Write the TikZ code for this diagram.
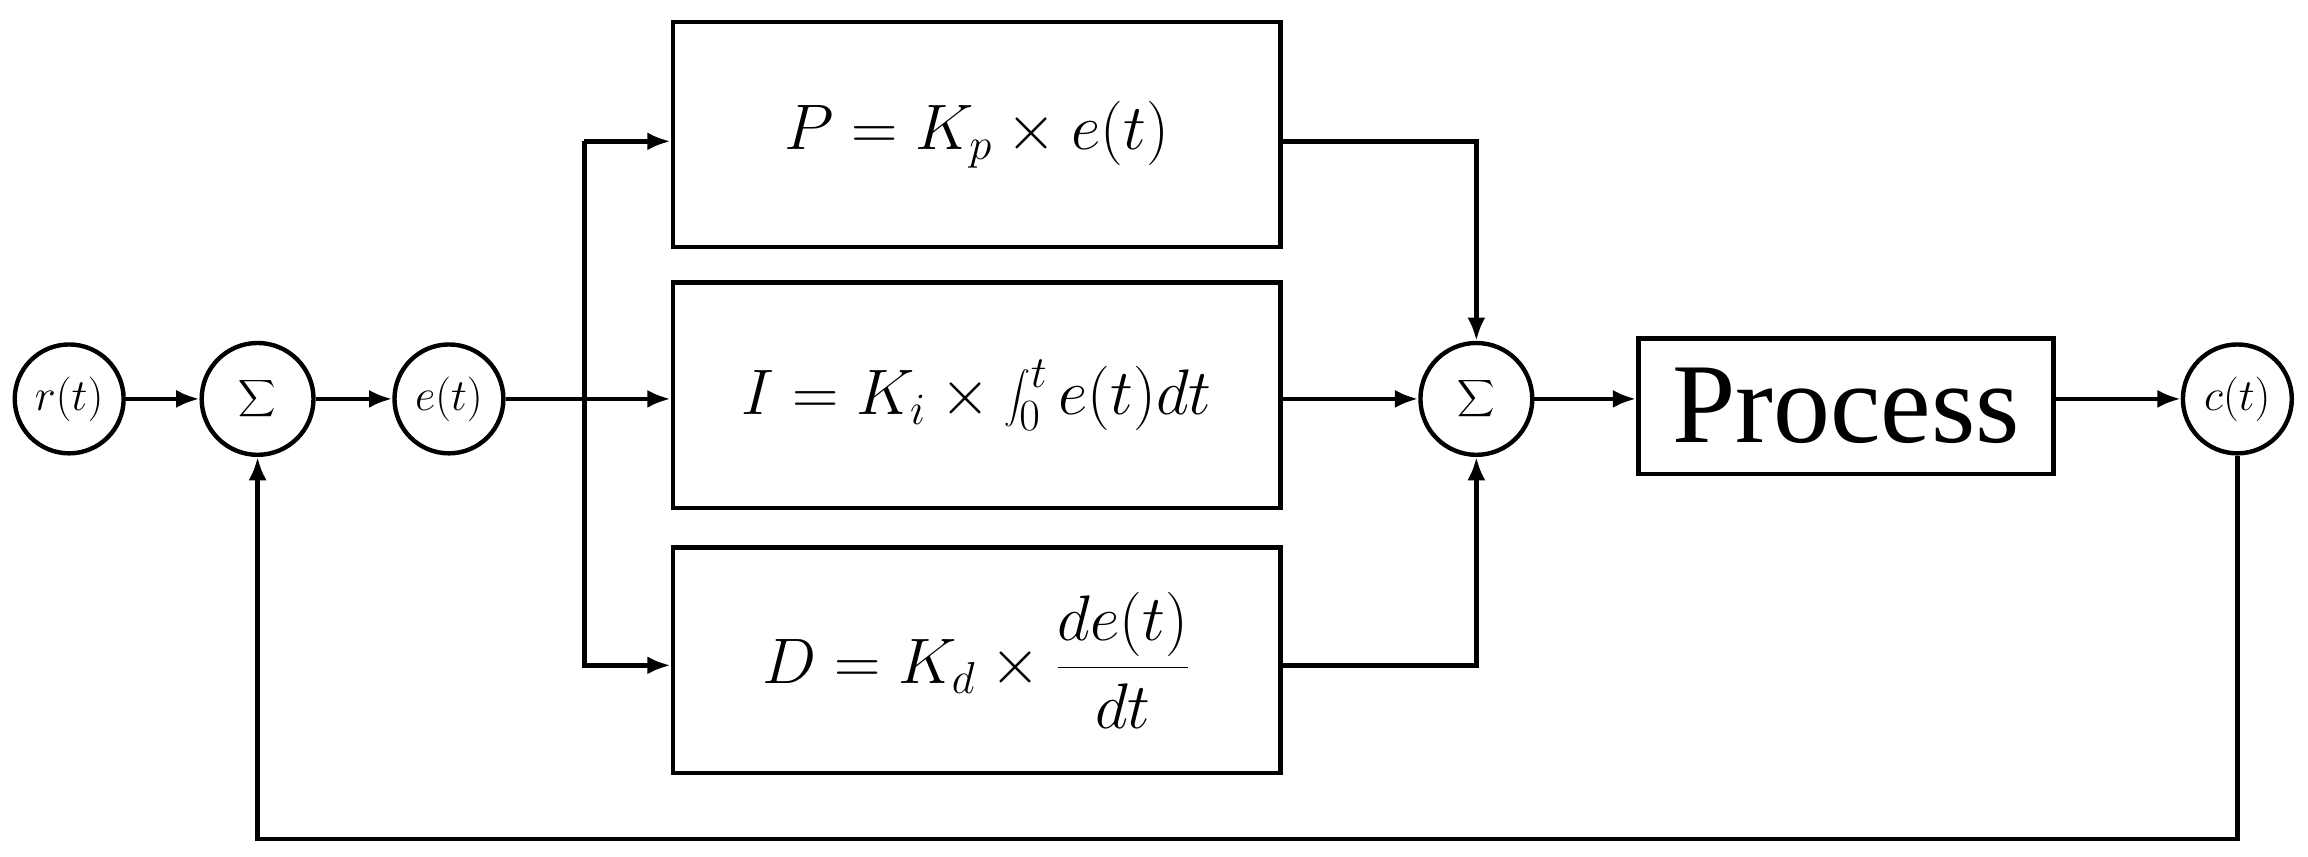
\documentclass[tikz,border=0pt]{standalone}
\usepackage{fontspec}
\newfontfamily\procfont{Liberation Serif}
\usetikzlibrary{arrows.meta}
\begin{document}
\begin{tikzpicture}[x=0.02cm,y=-0.02cm,
  every path/.style={line width=1.7pt},
  arr/.style={-{Latex[length=9pt,width=7pt]}},
  circ/.style={circle,draw,line width=1.7pt,minimum size=2.96cm,inner sep=0pt,font=\fontsize{17}{20}\selectfont},
  scirc/.style={circle,draw,line width=1.7pt,minimum size=2.96cm,inner sep=0pt,font=\fontsize{22}{24}\selectfont},
  blk/.style={draw,line width=1.7pt,minimum width=8.26cm,minimum height=3.06cm,font=\fontsize{24}{28}\selectfont}]
\useasboundingbox (0,0) rectangle (1568,582);
\node[circ,minimum size=1.48cm] (r) at (47,271) {$r(t)$};
\node[scirc,minimum size=1.52cm] (s1) at (175,271) {$\displaystyle\sum$};
\node[circ,minimum size=1.48cm] (e) at (305,271) {$e(t)$};
\node[blk] (P) at (663.5,91.5) {$P=K_p\times e(t)$};
\node[blk] (I) at (663.5,268.5) {$\displaystyle I=K_i\times \int_0^t e(t)dt$};
\node[blk] (D) at (663.5,448.5) {$\displaystyle D=K_d\times \frac{de(t)}{dt}$};
\node[scirc,minimum size=1.52cm] (s2) at (1003,271) {$\displaystyle\sum$};
\node[draw,line width=1.7pt,minimum width=5.64cm,minimum height=1.84cm,font=\procfont\fontsize{44}{48}\selectfont] (pr) at (1254,276) {Process};
\node[circ,minimum size=1.48cm] (c) at (1520,271) {$c(t)$};
\draw[arr] (r) -- (s1);
\draw[arr] (s1) -- (e);
\draw[arr] (e) -- (I.west |- e);
\draw[arr] (397,96) |- (D.west |- 0,452);
\draw[arr] (397,96) -- (P.west |- 0,96);
\draw[arr] (P.east |- 0,96) -| (s2.north);
\draw[arr] (D.east |- 0,452) -| (s2.south);
\draw[arr] (I.east |- s2) -- (s2.west);
\draw[arr] (s2.east) -- (pr.west |- s2);
\draw[arr] (pr.east |- c) -- (c.west);
\draw[arr] (c.south) -- (1520,570) -| (s1.south);
\end{tikzpicture}
\end{document}
